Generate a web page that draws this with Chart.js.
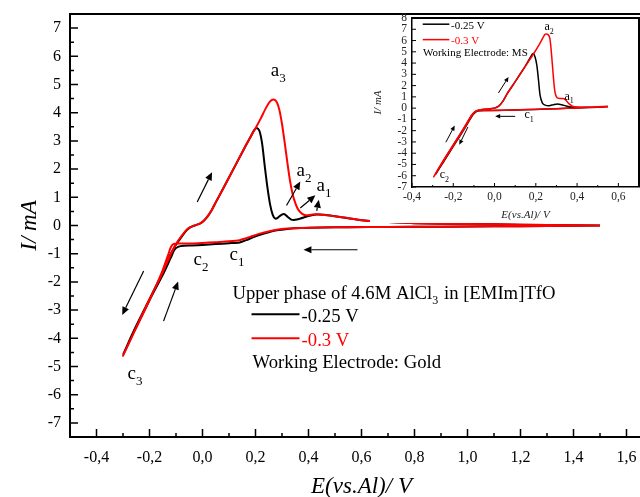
<!DOCTYPE html>
<html>
<head>
<meta charset="utf-8">
<script src="https://cdn.jsdelivr.net/npm/chart.js@4.4.1/dist/chart.umd.min.js"></script>
<style>
  html, body { margin: 0; padding: 0; background: #fff; overflow: hidden; width: 640px; height: 497px; }
  #main { position: absolute; left: 0; top: 0; }
  #insetBox { position: absolute; left: 370px; top: 16px; width: 270px; height: 207px; background: #fff; }
  #inset { position: absolute; left: 0; top: -4px; }
</style>
</head>
<body>
<canvas id="main" width="680" height="497"></canvas>
<div id="insetBox"><canvas id="inset" width="270" height="210"></canvas></div>
<script>
// ---- Gold electrode: cyclic voltammograms (E vs Al in V, I in mA) ----
const seriesNames = ['-0.25 V', '-0.3 V'];
const seriesColors = ['#000000', '#ff0000'];

// -0.25 V loop: cathodic sweep from 1.5 V down to the vertex, then anodic sweep back
const goldBlackE = [1.50, 1.30, 1.10, 0.90, 0.70, 0.55, 0.45, 0.37, 0.32, 0.28, 0.25, 0.22, 0.19, 0.165, 0.14, 0.10, 0.05, 0.00, -0.04, -0.07, -0.09, -0.105, -0.12, -0.15, -0.20, -0.25, -0.298,
  -0.26, -0.21, -0.16, -0.125, -0.105, -0.09, -0.075, -0.06, -0.045, -0.03, -0.01, 0.005, 0.02, 0.035, 0.05, 0.10, 0.15, 0.18, 0.195, 0.205, 0.215, 0.225, 0.235, 0.245, 0.255, 0.265, 0.275, 0.285, 0.298, 0.31, 0.322, 0.335, 0.35, 0.37, 0.40, 0.43, 0.46, 0.50, 0.55, 0.60, 0.70, 0.80, 0.90, 1.10, 1.30, 1.50];
const goldBlackI = [0.00, -0.02, -0.03, -0.04, -0.05, -0.06, -0.07, -0.09, -0.12, -0.17, -0.24, -0.32, -0.42, -0.52, -0.60, -0.63, -0.66, -0.69, -0.71, -0.72, -0.75, -0.85, -1.15, -1.75, -2.65, -3.60, -4.55,
  -3.75, -2.80, -1.85, -1.10, -0.75, -0.55, -0.35, -0.17, -0.06, 0.00, 0.07, 0.17, 0.33, 0.55, 0.82, 1.70, 2.60, 3.12, 3.38, 3.46, 3.35, 2.90, 2.10, 1.35, 0.75, 0.38, 0.24, 0.28, 0.38, 0.40, 0.30, 0.21, 0.20, 0.25, 0.34, 0.39, 0.38, 0.33, 0.26, 0.19, 0.12, 0.08, 0.06, 0.04, 0.02, 0.00];

// -0.3 V loop
const goldRedE = [1.50, 1.30, 1.10, 0.90, 0.70, 0.55, 0.45, 0.37, 0.32, 0.28, 0.25, 0.22, 0.19, 0.165, 0.14, 0.10, 0.05, 0.00, -0.04, -0.07, -0.09, -0.11, -0.12, -0.13, -0.155, -0.205, -0.255, -0.30,
  -0.262, -0.212, -0.162, -0.128, -0.108, -0.093, -0.078, -0.063, -0.048, -0.03, -0.01, 0.005, 0.02, 0.035, 0.05, 0.10, 0.15, 0.18, 0.20, 0.22, 0.24, 0.255, 0.268, 0.28, 0.29, 0.30, 0.31, 0.32, 0.33, 0.34, 0.35, 0.36, 0.375, 0.39, 0.41, 0.43, 0.46, 0.50, 0.55, 0.60, 0.70, 0.80, 0.90, 1.10, 1.30, 1.50];
const goldRedI = [0.00, -0.02, -0.03, -0.04, -0.05, -0.06, -0.07, -0.09, -0.11, -0.15, -0.21, -0.28, -0.37, -0.45, -0.52, -0.56, -0.59, -0.62, -0.64, -0.64, -0.64, -0.66, -0.78, -1.05, -1.70, -2.75, -3.72, -4.62,
  -3.85, -2.85, -1.90, -1.20, -0.80, -0.55, -0.36, -0.18, -0.07, 0.00, 0.07, 0.17, 0.33, 0.55, 0.82, 1.70, 2.60, 3.12, 3.45, 3.80, 4.18, 4.40, 4.47, 4.38, 4.10, 3.60, 2.95, 2.25, 1.60, 1.12, 0.80, 0.58, 0.42, 0.36, 0.38, 0.40, 0.37, 0.33, 0.26, 0.19, 0.12, 0.08, 0.06, 0.04, 0.02, 0.00];

// ---- MS electrode (inset) ----
const msBlackE = [0.55, 0.45, 0.35, 0.25, 0.15, 0.05, -0.03, -0.07, -0.09, -0.105, -0.15, -0.20, -0.25, -0.285,
  -0.25, -0.20, -0.15, -0.11, -0.09, -0.06, -0.03, 0.00, 0.02, 0.04, 0.06, 0.10, 0.15, 0.18, 0.188, 0.197, 0.205, 0.213, 0.221, 0.232, 0.245, 0.265, 0.285, 0.305, 0.325, 0.345, 0.37, 0.40, 0.45, 0.50, 0.55];
const msBlackI = [0.12, 0.05, -0.02, -0.08, -0.14, -0.19, -0.22, -0.23, -0.32, -0.60, -1.95, -3.40, -4.85, -5.85,
  -4.75, -3.30, -1.85, -0.62, -0.26, -0.13, -0.07, 0.00, 0.18, 0.60, 1.25, 2.35, 3.75, 4.70, 4.85, 4.50, 3.80, 2.50, 1.10, 0.45, 0.27, 0.22, 0.30, 0.36, 0.30, 0.20, 0.10, 0.06, 0.07, 0.10, 0.14];
const msRedE = [0.55, 0.45, 0.35, 0.25, 0.15, 0.05, -0.03, -0.07, -0.09, -0.105, -0.15, -0.20, -0.25, -0.295,
  -0.25, -0.20, -0.15, -0.11, -0.09, -0.06, -0.03, 0.00, 0.02, 0.04, 0.06, 0.10, 0.15, 0.19, 0.22, 0.245, 0.258, 0.268, 0.277, 0.285, 0.293, 0.303, 0.318, 0.332, 0.345, 0.36, 0.375, 0.40, 0.45, 0.50, 0.55];
const msRedI = [0.12, 0.05, -0.02, -0.08, -0.13, -0.18, -0.21, -0.22, -0.30, -0.55, -1.90, -3.35, -4.80, -6.10,
  -4.70, -3.25, -1.80, -0.60, -0.25, -0.12, -0.07, 0.00, 0.18, 0.60, 1.25, 2.35, 3.75, 4.85, 5.75, 6.55, 6.55, 6.20, 4.60, 2.80, 1.40, 0.92, 0.85, 0.85, 0.72, 0.40, 0.20, 0.10, 0.08, 0.12, 0.15];

// ---- tick values and labels ----
const mainXTicks = [-0.4, -0.2, 0.0, 0.2, 0.4, 0.6, 0.8, 1.0, 1.2, 1.4, 1.6];
const mainXLabels = ['-0,4', '-0,2', '0,0', '0,2', '0,4', '0,6', '0,8', '1,0', '1,2', '1,4', '1,6'];
const mainYTicks = [-7, -6, -5, -4, -3, -2, -1, 0, 1, 2, 3, 4, 5, 6, 7];
const mainYLabels = ['-7', '-6', '-5', '-4', '-3', '-2', '-1', '0', '1', '2', '3', '4', '5', '6', '7'];
const insetXTicks = [-0.4, -0.2, 0.0, 0.2, 0.4, 0.6];
const insetXLabels = ['-0,4', '-0,2', '0,0', '0,2', '0,4', '0,6'];
const insetYTicks = [-7, -6, -5, -4, -3, -2, -1, 0, 1, 2, 3, 4, 5, 6, 7, 8];
const insetYLabels = ['-7', '-6', '-5', '-4', '-3', '-2', '-1', '0', '1', '2', '3', '4', '5', '6', '7', '8'];

// ---- peak labels and sweep-direction arrows, in data units ----
const goldPeaks = [
  { t: 'a', s: '3', e: 0.258, i: 5.30 },
  { t: 'a', s: '2', e: 0.355, i: 1.74 },
  { t: 'a', s: '1', e: 0.430, i: 1.21 },
  { t: 'c', s: '1', e: 0.102, i: -1.24 },
  { t: 'c', s: '2', e: -0.034, i: -1.40 },
  { t: 'c', s: '3', e: -0.283, i: -5.44 }
];
const goldArrows = [
  [-0.020, 0.83, 0.036, 1.89],
  [-0.147, -3.39, -0.092, -1.99],
  [-0.222, -1.61, -0.303, -3.17],
  [0.585, -0.86, 0.381, -0.86],
  [0.317, 0.71, 0.369, 1.56],
  [0.369, 0.62, 0.426, 1.07],
  [0.431, 0.52, 0.439, 0.91]
];
const msPeaks = [
  { t: 'a', s: '2', e: 0.242, i: 6.9 },
  { t: 'a', s: '1', e: 0.339, i: 0.75 },
  { t: 'c', s: '1', e: 0.145, i: -0.87 },
  { t: 'c', s: '2', e: -0.266, i: -6.2 }
];
const msArrows = [
  [0.019, 1.35, 0.068, 2.77],
  [0.100, -0.73, 0.003, -0.73],
  [-0.236, -3.03, -0.193, -1.55],
  [-0.129, -1.67, -0.171, -3.24]
];

const FONT = '"Liberation Serif", "Times New Roman", serif';
Chart.defaults.font.family = FONT;
Chart.defaults.color = '#000';

const pts = (xs, ys) => xs.map((x, k) => ({ x: x, y: ys[k] }));
const mids = arr => arr.slice(1).map((v, k) => (v + arr[k]) / 2);

function runs(ctx, parts, x, y, size, color) {
  // parts: [text, isSubscript]
  let cx = x;
  ctx.fillStyle = color;
  ctx.textBaseline = 'alphabetic';
  ctx.textAlign = 'left';
  for (const [txt, sub] of parts) {
    const fs = sub ? Math.round(size * 0.66) : size;
    ctx.font = fs + 'px ' + FONT;
    ctx.fillText(txt, cx, sub ? y + size * 0.3 : y);
    cx += ctx.measureText(txt).width + (sub ? 1 : 0);
  }
  return cx - x;
}

function arrow(ctx, x1, y1, x2, y2, head, hw, lw) {
  const ang = Math.atan2(y2 - y1, x2 - x1);
  const bx = x2 - head * Math.cos(ang), by = y2 - head * Math.sin(ang);
  ctx.lineWidth = lw;
  ctx.beginPath();
  ctx.moveTo(x1, y1); ctx.lineTo(bx, by); ctx.stroke();
  ctx.beginPath();
  ctx.moveTo(x2, y2);
  ctx.lineTo(bx + hw * Math.sin(ang), by - hw * Math.cos(ang));
  ctx.lineTo(bx - hw * Math.sin(ang), by + hw * Math.cos(ang));
  ctx.closePath(); ctx.fill();
}

// frame edges and inward tick marks
const axisDecor = {
  id: 'axisDecor',
  afterDatasetsDraw(chart, args, o) {
    const { ctx, chartArea: a, scales: { x, y } } = chart;
    ctx.save();
    ctx.strokeStyle = '#000';
    ctx.lineWidth = o.frameWidth;
    ctx.beginPath();
    ctx.moveTo(a.left, a.top); ctx.lineTo(a.right, a.top); ctx.lineTo(a.right, a.bottom);
    ctx.stroke();
    ctx.lineWidth = o.tickWidth;
    ctx.beginPath();
    const seg = (x1, y1, x2, y2) => { ctx.moveTo(x1, y1); ctx.lineTo(x2, y2); };
    o.xMajor.forEach(v => { const p = x.getPixelForValue(v); seg(p, a.bottom, p, a.bottom - o.major); });
    o.xMinor.forEach(v => { const p = x.getPixelForValue(v); seg(p, a.bottom, p, a.bottom - o.minor); });
    o.yMajor.forEach(v => { const p = y.getPixelForValue(v); seg(a.left, p, a.left + o.major, p); });
    o.yMinor.forEach(v => { const p = y.getPixelForValue(v); seg(a.left, p, a.left + o.minor, p); });
    ctx.stroke();
    ctx.restore();
  }
};

// peak labels, arrows and the descriptive legend block
const notes = {
  id: 'notes',
  afterDatasetsDraw(chart, args, o) {
    const { ctx, scales: { x, y } } = chart;
    ctx.save();
    o.peaks.forEach(p => runs(ctx, [[p.t, false], [p.s, true]], x.getPixelForValue(p.e), y.getPixelForValue(p.i), o.peakSize, '#000'));
    ctx.strokeStyle = '#000'; ctx.fillStyle = '#000';
    o.arrows.forEach(([e1, i1, e2, i2]) => arrow(ctx, x.getPixelForValue(e1), y.getPixelForValue(i1), x.getPixelForValue(e2), y.getPixelForValue(i2), o.head, o.head * 0.45, o.arrowWidth));
    const L = o.legend;
    if (L.title) runs(ctx, L.title, x.getPixelForValue(L.titleAt[0]), y.getPixelForValue(L.titleAt[1]), L.size, '#000');
    L.rows.forEach((r, k) => {
      const yl = y.getPixelForValue(r.lineI);
      ctx.strokeStyle = seriesColors[k]; ctx.lineWidth = L.lineWidth;
      ctx.beginPath(); ctx.moveTo(x.getPixelForValue(L.lineE[0]), yl); ctx.lineTo(x.getPixelForValue(L.lineE[1]), yl); ctx.stroke();
      runs(ctx, [[seriesNames[k], false]], x.getPixelForValue(L.textE), y.getPixelForValue(r.textI), L.size, seriesColors[k]);
    });
    runs(ctx, [[L.electrode, false]], x.getPixelForValue(L.electrodeAt[0]), y.getPixelForValue(L.electrodeAt[1]), L.size, '#000');
    ctx.restore();
  }
};

// fixed axis boxes, without the extra room Chart.js reserves for edge labels
function fixBox(s, w, h) {
  if (w !== null) s.width = w;
  if (h !== null) s.height = h;
  s.paddingLeft = 0; s.paddingRight = 0; s.paddingTop = 0; s.paddingBottom = 0;
}

function axes(cfg) {
  return {
    x: {
      type: 'linear', min: cfg.xMin, max: cfg.xMax,
      afterBuildTicks: s => { s.ticks = cfg.xTicks.map(v => ({ value: v })); },
      afterFit: s => fixBox(s, null, cfg.xHeight),
      grid: { display: false, drawTicks: false },
      border: { display: true, color: '#000', width: cfg.frameWidth },
      ticks: { autoSkip: false, maxRotation: 0, padding: cfg.xPad, font: { size: cfg.tickSize }, color: cfg.tickColor, callback: (v, k) => cfg.xLabels[k] },
      title: { display: true, text: 'E(vs.Al)/ V', color: cfg.tickColor, font: { size: cfg.titleSize, style: 'italic', lineHeight: cfg.titleLH }, padding: { top: 0, bottom: cfg.xTitlePad } }
    },
    y: {
      type: 'linear', min: cfg.yMin, max: cfg.yMax,
      afterBuildTicks: s => { s.ticks = cfg.yTicks.map(v => ({ value: v })); },
      afterFit: s => fixBox(s, cfg.yWidth, null),
      grid: { display: false, drawTicks: false },
      border: { display: true, color: '#000', width: cfg.frameWidth },
      ticks: { autoSkip: false, padding: cfg.yPad, font: { size: cfg.tickSize }, color: cfg.tickColor, callback: (v, k) => cfg.yLabels[k] },
      title: { display: true, text: 'I/ mA', color: cfg.tickColor, font: { size: cfg.titleSize, style: 'italic', lineHeight: 1 }, padding: { top: cfg.yTitlePad, bottom: 0 } }
    }
  };
}

function loops(blackE, blackI, redE, redI, lw) {
  return [
    { label: seriesNames[0], data: pts(blackE, blackI), borderColor: seriesColors[0], borderWidth: lw, showLine: true, pointRadius: 0, tension: 0.25, order: 1 },
    { label: seriesNames[1], data: pts(redE, redI), borderColor: seriesColors[1], borderWidth: lw, showLine: true, pointRadius: 0, tension: 0.25, order: 0 }
  ];
}

new Chart(document.getElementById('main'), {
  type: 'scatter',
  data: { datasets: loops(goldBlackE, goldBlackI, goldRedE, goldRedI, 2) },
  options: {
    responsive: false, animation: false, events: [],
    layout: { padding: { top: 14, right: 27, left: 0, bottom: 0 } },
    scales: axes({ xMin: -0.5, xMax: 1.7, yMin: -7.5, yMax: 7.5, xTicks: mainXTicks, xLabels: mainXLabels, yTicks: mainYTicks, yLabels: mainYLabels,
      xHeight: 60, yWidth: 70, frameWidth: 2, xPad: 11, yPad: 9, tickSize: 16, tickColor: '#000', titleSize: 23, titleLH: 0.85, xTitlePad: 0, yTitlePad: 18 }),
    plugins: {
      legend: { display: false }, tooltip: { enabled: false },
      axisDecor: { frameWidth: 2, tickWidth: 1.5, major: 8, minor: 4, xMajor: mainXTicks, xMinor: mids(mainXTicks), yMajor: mainYTicks, yMinor: mids(mainYTicks) },
      notes: {
        peaks: goldPeaks, arrows: goldArrows, peakSize: 19, head: 8, arrowWidth: 1.2,
        legend: {
          size: 18.7, lineWidth: 2,
          title: [['Upper phase of 4.6M AlCl', false], ['3', true], [' in [EMIm]TfO', false]], titleAt: [0.113, -2.6],
          lineE: [0.185, 0.366], textE: 0.374,
          rows: [{ lineI: -3.15, textI: -3.41 }, { lineI: -4.0, textI: -4.27 }],
          electrode: 'Working Electrode: Gold', electrodeAt: [0.189, -5.07]
        }
      }
    }
  },
  plugins: [axisDecor, notes]
});

new Chart(document.getElementById('inset'), {
  type: 'scatter',
  data: { datasets: loops(msBlackE, msBlackI, msRedE, msRedI, 1.5) },
  options: {
    responsive: false, animation: false, events: [],
    layout: { padding: { top: 6, right: 1, left: 0, bottom: 0 } },
    scales: axes({ xMin: -0.4, xMax: 0.7, yMin: -7, yMax: 8, xTicks: insetXTicks, xLabels: insetXLabels, yTicks: insetYTicks, yLabels: insetYLabels,
      xHeight: 35, yWidth: 42, frameWidth: 1.5, xPad: 3, yPad: 5, tickSize: 11.5, tickColor: '#222', titleSize: 11, titleLH: 1, xTitlePad: 1, yTitlePad: 3 }),
    plugins: {
      legend: { display: false }, tooltip: { enabled: false },
      axisDecor: { frameWidth: 2, tickWidth: 1, major: 4, minor: 2, xMajor: insetXTicks, xMinor: mids(insetXTicks), yMajor: insetYTicks, yMinor: [] },
      notes: {
        peaks: msPeaks, arrows: msArrows, peakSize: 12, head: 5, arrowWidth: 1,
        legend: {
          size: 11, lineWidth: 1.5,
          title: null,
          lineE: [-0.348, -0.219], textE: -0.211,
          rows: [{ lineI: 7.45, textI: 7.05 }, { lineI: 6.08, textI: 5.72 }],
          electrode: 'Working Electrode: MS', electrodeAt: [-0.347, 4.66]
        }
      }
    }
  },
  plugins: [axisDecor, notes]
});
</script>
</body>
</html>
